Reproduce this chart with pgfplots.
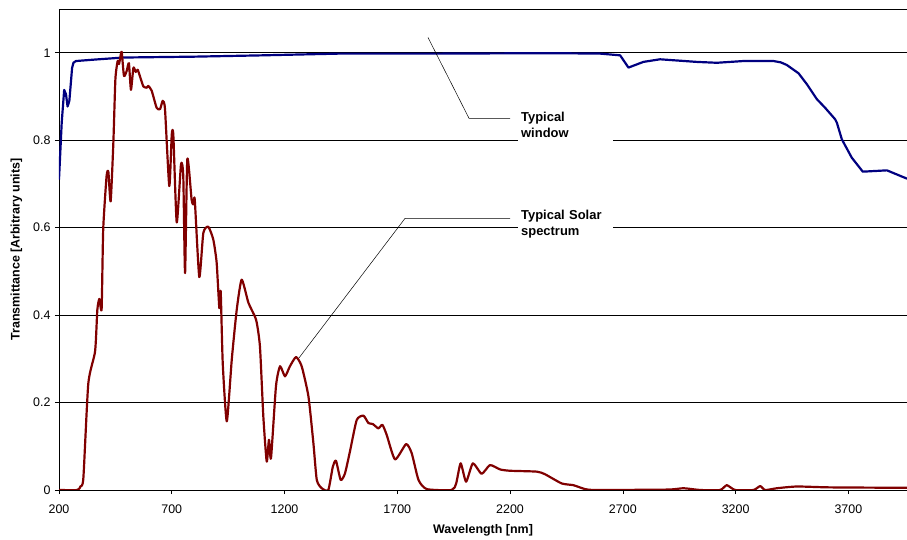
\documentclass[border=0pt]{standalone}
\usepackage{fontspec}
\setmainfont{Liberation Sans}
\usepackage{pgfplots}
\pgfplotsset{compat=1.18}
\definecolor{winblue}{RGB}{0,0,128}
\definecolor{solred}{RGB}{128,0,0}
\begin{document}
\begin{tikzpicture}
\begin{axis}[
  scale only axis, width=848bp, height=481bp,
  xmin=200, xmax=3960, ymin=0, ymax=1.1,
  axis lines=left, axis line style={-, line width=0.8pt},
  tick align=outside, major tick length=4bp,
  tick style={black, line width=0.6pt},
  xtick={200,700,...,3700}, ytick={0,0.2,...,1},
  extra y ticks={1.1}, extra y tick labels={},
  extra y tick style={major tick length=0pt},
  ymajorgrids, grid style={black, line width=0.6pt},
  /pgf/number format/assume math mode=true,
  /pgf/number format/1000 sep={},
  ticklabel style={font=\fontsize{12.5}{14}\selectfont},
  xticklabel style={yshift=-7bp},
  yticklabel style={xshift=-1bp},
  xlabel={\textbf{Wavelength [nm]}},
  ylabel={\textbf{Transmittance [Arbitrary units]}},
  label style={font=\fontsize{12.5}{14}\selectfont},
  xlabel style={yshift=-4bp},
  ylabel style={yshift=0bp},
  clip=true,
]
\coordinate (sw) at (rel axis cs:0,0);
\coordinate (ne) at (rel axis cs:1,1);
% typical window
\addplot[winblue, line width=2.2pt, line join=round] coordinates {
(200,0.71) (212,0.84) (223,0.915) (231,0.905) (238,0.877) (246,0.89)
(258,0.965) (264,0.977) (275,0.981) (350,0.984) (484,0.989) (800,0.991)
(1100,0.994) (1446,0.998) (1900,0.998) (2377,0.999) (2599,0.998)
(2688,0.994) (2725,0.966) (2791,0.979) (2865,0.985) (3028,0.979)
(3117,0.977) (3235,0.981) (3368,0.981) (3400,0.978) (3427,0.972)
(3479,0.953) (3516,0.928) (3560,0.894) (3597,0.874) (3641,0.848)
(3649,0.840) (3671,0.802) (3715,0.760) (3764,0.728) (3871,0.731)
(3960,0.712)
};
% typical solar spectrum
\addplot[solred, line width=2.2pt, line join=round, smooth, tension=0.35] coordinates {
(200,0) (281,0) (295,0.008) (308,0.027) (330,0.244) (360,0.317)
(370,0.412) (379,0.437) (389,0.414) (396,0.596) (411,0.718) (419,0.727)
(429,0.660) (441,0.794) (450,0.939) (460,0.981) (466,0.974) (471,0.987)
(478,1.002) (488,0.947) (500,0.958) (510,0.976) (519,0.915) (530,0.966)
(540,0.956) (549,0.961) (559,0.946) (574,0.923) (589,0.920) (596,0.924)
(611,0.913) (633,0.874) (648,0.871) (660,0.890) (670,0.871) (689,0.695)
(700,0.813) (707,0.811) (722,0.612) (741,0.745) (751,0.718) (759,0.496)
(769,0.757) (788,0.664) (796,0.653) (802,0.664) (822,0.487) (840,0.588)
(862,0.602) (884,0.573) (899,0.52) (911,0.416) (917,0.454) (926,0.290)
(944,0.157) (966,0.298) (988,0.412) (1010,0.481) (1040,0.428)
(1074,0.389) (1091,0.328) (1106,0.168) (1121,0.065) (1131,0.115)
(1140,0.073) (1162,0.237) (1180,0.283) (1202,0.260) (1224,0.283)
(1251,0.304) (1276,0.283) (1306,0.214) (1328,0.107) (1343,0.023)
(1365,0.004) (1394,0) (1414,0.053) (1428,0.067) (1449,0.023)
(1468,0.038) (1490,0.088) (1520,0.160) (1550,0.170) (1572,0.153)
(1591,0.151) (1616,0.141) (1634,0.149) (1653,0.126) (1690,0.070)
(1739,0.105) (1764,0.084) (1794,0.023) (1831,0.002) (1941,0)
(1961,0.015) (1981,0.061) (2005,0.019) (2035,0.061) (2074,0.037)
(2111,0.057) (2156,0.047) (2200,0.044) (2318,0.042) (2355,0.036)
(2429,0.015) (2481,0.011) (2533,0.002) (2585,0) (2900,0.001)
(2969,0.004) (3043,0) (3131,0) (3161,0.011) (3198,0) (3279,0)
(3309,0.009) (3331,0) (3383,0.004) (3472,0.008) (3619,0.006)
(3960,0.005)
};
% labels with white background
\node[fill=white, anchor=west, align=left, inner sep=0pt,
  minimum width=95bp, minimum height=40bp, text width=93bp,
  font=\fontsize{13}{16}\selectfont\bfseries]
  at (axis cs:2235,0.836) {\hspace*{2bp}Typical\\\hspace*{2bp}window};
\node[fill=white, anchor=west, align=left, inner sep=0pt,
  minimum width=95bp, minimum height=40bp, text width=93bp,
  font=\fontsize{13}{16}\selectfont\bfseries]
  at (axis cs:2235,0.607) {\hspace*{2bp}Typical Solar\\\hspace*{2bp}spectrum};
% leader lines
\draw[black, line width=0.5pt] (axis cs:1836,1.035) -- (axis cs:2018,0.850) -- (axis cs:2200,0.850);
\draw[black, line width=0.5pt] (axis cs:1264,0.302) -- (axis cs:1734,0.621) -- (axis cs:2200,0.621);
\end{axis}
\pgfresetboundingbox
\path[use as bounding box] ([shift={(-59bp,-50bp)}]sw) rectangle ([shift={(0bp,9bp)}]ne);
\end{tikzpicture}
\end{document}
